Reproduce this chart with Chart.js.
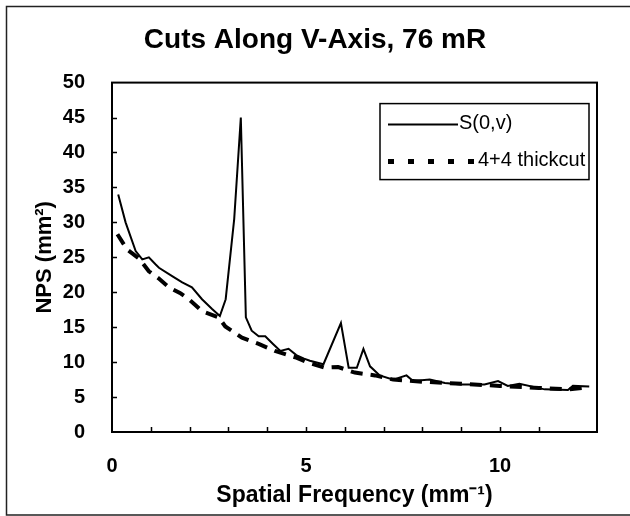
<!DOCTYPE html>
<html><head><meta charset="utf-8">
<script src="https://cdn.jsdelivr.net/npm/chart.js@4.4.0/dist/chart.umd.min.js"></script>
<style>html,body{margin:0;padding:0;background:#fff}canvas{display:block}</style>
</head><body>
<canvas id="c" width="630" height="516"></canvas>
<script>
const chartTitle = 'Cuts Along V-Axis, 76 mR';
const xAxisTitle = 'Spatial Frequency (mm\u207B\u00B9)';
const yAxisTitle = 'NPS (mm\u00B2)';
const seriesNames = ['S(0,v)', '4+4 thickcut'];
const xLabeledTicks = [0, 5, 10];

const sFreq   = [0.16, 0.35, 0.61, 0.78, 0.95, 1.12, 1.21, 1.55, 1.81, 2.06, 2.32, 2.58, 2.78, 2.93, 3.15, 3.32, 3.45, 3.60, 3.78, 3.95, 4.15, 4.34, 4.55, 4.75, 4.95, 5.10, 5.45, 5.90, 6.10, 6.31, 6.48, 6.65, 6.90, 7.25, 7.59, 7.76, 8.19, 8.58, 9.00, 9.60, 9.95, 10.20, 10.50, 11.15, 11.75, 11.88, 12.30];
const sValues = [34.0, 30.0, 25.9, 24.7, 25.0, 24.0, 23.5, 22.3, 21.4, 20.7, 19.0, 17.6, 16.6, 19.0, 30.5, 45.0, 16.4, 14.5, 13.7, 13.7, 12.6, 11.6, 11.9, 11.0, 10.5, 10.2, 9.7, 15.6, 9.2, 9.2, 11.9, 9.4, 8.1, 7.5, 8.1, 7.3, 7.5, 7.0, 6.8, 6.8, 7.3, 6.6, 6.9, 6.1, 6.0, 6.6, 6.5];

const tFreq   = [0.14, 0.39, 0.70, 0.95, 1.20, 1.47, 1.75, 1.98, 2.32, 2.75, 2.92, 3.35, 3.78, 4.20, 4.72, 5.02, 5.49, 5.83, 6.26, 6.78, 7.25, 8.00, 9.00, 10.00, 11.00, 11.75, 12.30];
const tValues = [28.3, 26.1, 24.8, 23.0, 22.0, 20.7, 19.9, 19.0, 17.3, 16.4, 15.1, 13.5, 12.6, 11.6, 10.7, 10.0, 9.2, 9.3, 8.5, 8.1, 7.5, 7.2, 6.9, 6.6, 6.3, 6.1, 6.4];

const FONT = '"Liberation Sans", Arial, Helvetica, sans-serif';

const toPoints = (xs, ys) => xs.map((x, i) => ({x: x, y: ys[i]}));

const decorPlugin = {
  id: 'decor',
  afterDraw(chart) {
    const {ctx, chartArea: ca, scales} = chart;
    const xs = scales.x, ys = scales.y;
    ctx.save();
    ctx.strokeStyle = '#000';
    ctx.lineWidth = 1.5;
    ctx.beginPath();
    xs.ticks.forEach(t => {
      if (Number.isInteger(t.value) && t.value > 0) {
        const px = Math.round(xs.getPixelForValue(t.value)) + 0.5;
        ctx.moveTo(px, ca.bottom); ctx.lineTo(px, ca.bottom - 5);
      }
    });
    ys.ticks.forEach(t => {
      if (t.value > 0 && t.value < 50) {
        const py = Math.round(ys.getPixelForValue(t.value)) + 0.5;
        ctx.moveTo(ca.left, py); ctx.lineTo(ca.left + 5, py);
      }
    });
    ctx.stroke();
    ctx.lineWidth = 2;
    ctx.strokeRect(ca.left, ca.top, ca.right - ca.left, ca.bottom - ca.top);
    ctx.lineWidth = 1.5;
    ctx.strokeStyle = '#222';
    ctx.beginPath();
    ctx.moveTo(640, 6.5); ctx.lineTo(6.5, 6.5); ctx.lineTo(6.5, 515); ctx.lineTo(640, 515);
    ctx.stroke();
    // legend
    const bx = ca.right - 217, by = ca.top + 21, bw = 209, bh = 76;
    ctx.fillStyle = '#fff';
    ctx.fillRect(bx, by, bw, bh);
    ctx.strokeStyle = '#000';
    ctx.lineWidth = 1.5;
    ctx.strokeRect(bx, by, bw, bh);
    const ds = chart.data.datasets;
    ctx.font = '20px ' + FONT;
    ctx.textBaseline = 'middle';
    ctx.fillStyle = '#000';
    ctx.lineWidth = ds[0].borderWidth;
    ctx.setLineDash([]);
    ctx.beginPath(); ctx.moveTo(bx + 8, by + 21); ctx.lineTo(bx + 78, by + 21); ctx.stroke();
    ctx.fillText(ds[0].label, bx + 79, by + 20);
    ctx.lineWidth = 5;
    ctx.setLineDash([6, 14]);
    ctx.beginPath(); ctx.moveTo(bx + 8, by + 58); ctx.lineTo(bx + 96, by + 58); ctx.stroke();
    ctx.setLineDash([]);
    ctx.fillText(ds[1].label, bx + 98, by + 57);
    ctx.restore();
  }
};

new Chart(document.getElementById('c'), {
  type: 'line',
  data: {
    datasets: [
      { label: seriesNames[0], data: toPoints(sFreq, sValues), borderColor: '#000', borderWidth: 2, pointRadius: 0, tension: 0, fill: false },
      { label: seriesNames[1], data: toPoints(tFreq, tValues), borderColor: '#000', borderWidth: 4, borderDash: [12, 8], pointRadius: 0, tension: 0, fill: false }
    ]
  },
  options: {
    responsive: false,
    animation: false,
    devicePixelRatio: 1,
    layout: { padding: 0 },
    plugins: {
      legend: { display: false },
      tooltip: { enabled: false },
      title: {
        display: true, text: chartTitle, color: '#000',
        font: { family: FONT, size: 28, weight: 'bold', lineHeight: 1.2 },
        padding: { top: 23, bottom: 26 }
      }
    },
    scales: {
      x: {
        type: 'linear', min: 0, max: 12.5,
        grid: { display: false }, border: { display: false },
        ticks: {
          stepSize: 1, autoSkip: false, maxRotation: 0, padding: 14, color: '#000',
          font: { family: FONT, size: 20, weight: 'bold' },
          callback: v => xLabeledTicks.includes(v) ? String(v) : ''
        },
        title: { display: true, text: xAxisTitle, color: '#000', font: { family: FONT, size: 23, weight: 'bold', lineHeight: 1.2 }, padding: { top: 0, bottom: 7 } },
        afterFit: s => { s.height = 84; }
      },
      y: {
        type: 'linear', min: 0, max: 50,
        grid: { display: false }, border: { display: false },
        ticks: { stepSize: 5, padding: 19, color: '#000', font: { family: FONT, size: 20, weight: 'bold' } },
        title: { display: true, text: yAxisTitle, color: '#000', font: { family: FONT, size: 22, weight: 'bold', lineHeight: 1.2 }, padding: { top: 32, bottom: 0 } },
        afterFit: s => { s.width = 112; }
      },
      yRight: {
        type: 'linear', position: 'right', min: 0, max: 50,
        grid: { display: false }, border: { display: false },
        ticks: { display: false },
        afterFit: s => { s.width = 33; }
      }
    }
  },
  plugins: [decorPlugin]
});
</script>
</body></html>
